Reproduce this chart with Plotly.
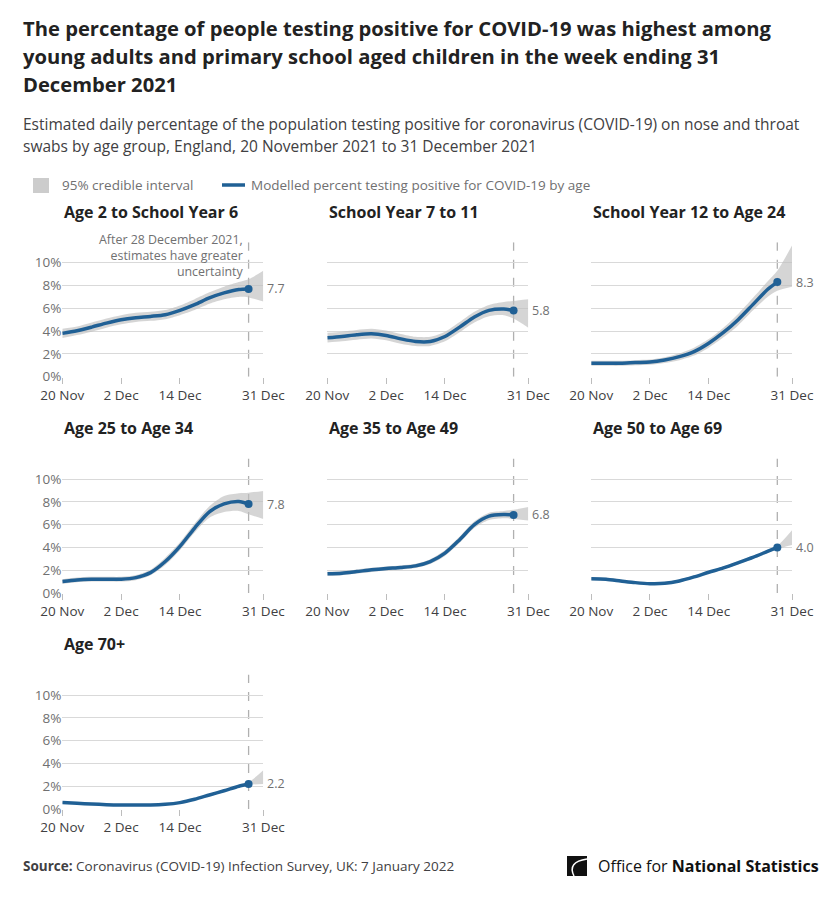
import plotly.graph_objects as go

# The page body adds an 8px margin, so the figure is 8px smaller and all
# pixel positions below are given in screenshot coordinates and shifted by OFF.
OFF = 8
W, H = 840 - OFF, 898 - OFF
FONT = "Open Sans"

# ---------------- data ----------------
line_dates = ["2021-11-20", "2021-11-23", "2021-11-26", "2021-11-29", "2021-12-02",
              "2021-12-05", "2021-12-08", "2021-12-11", "2021-12-14", "2021-12-17",
              "2021-12-20", "2021-12-23", "2021-12-26", "2021-12-28"]
band_dates = line_dates + ["2021-12-31"]

panel_titles = ["Age 2 to School Year 6", "School Year 7 to 11", "School Year 12 to Age 24",
                "Age 25 to Age 34", "Age 35 to Age 49", "Age 50 to Age 69", "Age 70+"]

age2_y6 = [3.8, 4.03, 4.35, 4.7, 5.0, 5.18, 5.29, 5.44, 5.82, 6.32, 6.91, 7.35, 7.65, 7.7]
age2_y6_lo = [3.4, 3.65, 3.95, 4.3, 4.6, 4.8, 4.9, 5.05, 5.4, 5.85, 6.4, 6.8, 7.0, 6.95, 6.6]
age2_y6_hi = [4.2, 4.4, 4.75, 5.1, 5.4, 5.6, 5.7, 5.85, 6.25, 6.8, 7.4, 7.9, 8.3, 8.55, 9.3]

y7_11 = [3.41, 3.53, 3.68, 3.76, 3.62, 3.32, 3.09, 3.09, 3.53, 4.35, 5.24, 5.82, 5.94, 5.8]
y7_11_lo = [3.0, 3.1, 3.25, 3.35, 3.2, 2.9, 2.7, 2.7, 3.1, 3.9, 4.75, 5.3, 5.4, 5.1, 4.3]
y7_11_hi = [3.85, 3.95, 4.1, 4.2, 4.05, 3.75, 3.5, 3.5, 3.95, 4.8, 5.7, 6.3, 6.55, 6.65, 6.8]

y12_24 = [1.18, 1.18, 1.18, 1.24, 1.29, 1.47, 1.76, 2.2, 2.94, 3.88, 5.0, 6.32, 7.65, 8.3]
y12_24_lo = [0.95, 0.95, 0.95, 1.0, 1.05, 1.2, 1.45, 1.85, 2.55, 3.45, 4.5, 5.8, 7.0, 7.55, 7.9]
y12_24_hi = [1.4, 1.4, 1.4, 1.45, 1.5, 1.7, 2.05, 2.55, 3.3, 4.3, 5.5, 6.9, 8.35, 9.3, 11.5]

a25_34 = [1.0, 1.15, 1.21, 1.21, 1.21, 1.35, 1.79, 2.76, 4.09, 5.7, 7.12, 7.82, 8.03, 7.8]
a25_34_lo = [0.8, 0.95, 1.0, 1.0, 1.0, 1.12, 1.55, 2.45, 3.75, 5.3, 6.6, 7.1, 7.2, 6.9, 6.5]
a25_34_hi = [1.2, 1.35, 1.42, 1.42, 1.42, 1.58, 2.05, 3.1, 4.45, 6.1, 7.6, 8.5, 8.75, 8.8, 8.95]

a35_49 = [1.68, 1.74, 1.88, 2.03, 2.15, 2.24, 2.38, 2.76, 3.5, 4.68, 6.0, 6.74, 6.88, 6.85]
a35_49_lo = [1.5, 1.56, 1.7, 1.85, 1.97, 2.06, 2.2, 2.55, 3.25, 4.4, 5.7, 6.4, 6.55, 6.5, 6.35]
a35_49_hi = [1.86, 1.92, 2.06, 2.21, 2.33, 2.42, 2.56, 2.97, 3.75, 4.95, 6.3, 7.05, 7.2, 7.3, 7.55]

a50_69 = [1.24, 1.21, 1.06, 0.91, 0.82, 0.85, 1.06, 1.41, 1.82, 2.2, 2.65, 3.12, 3.65, 4.0]
a50_69_lo = [1.12, 1.09, 0.94, 0.79, 0.7, 0.73, 0.94, 1.29, 1.7, 2.07, 2.52, 2.98, 3.5, 3.85, 4.2]
a50_69_hi = [1.36, 1.33, 1.18, 1.03, 0.94, 0.97, 1.18, 1.53, 1.94, 2.33, 2.78, 3.26, 3.8, 4.15, 5.5]

a70 = [0.56, 0.5, 0.44, 0.38, 0.35, 0.35, 0.35, 0.41, 0.56, 0.85, 1.23, 1.6, 2.0, 2.2]
a70_lo = [0.48, 0.42, 0.36, 0.3, 0.27, 0.27, 0.27, 0.33, 0.48, 0.77, 1.14, 1.5, 1.9, 2.1, 2.2]
a70_hi = [0.64, 0.58, 0.52, 0.46, 0.43, 0.43, 0.43, 0.49, 0.64, 0.93, 1.32, 1.7, 2.1, 2.35, 3.4]

series = [age2_y6, y7_11, y12_24, a25_34, a35_49, a50_69, a70]
lows = [age2_y6_lo, y7_11_lo, y12_24_lo, a25_34_lo, a35_49_lo, a50_69_lo, a70_lo]
highs = [age2_y6_hi, y7_11_hi, y12_24_hi, a25_34_hi, a35_49_hi, a50_69_hi, a70_hi]
end_labels = ["7.7", "5.8", "8.3", "7.8", "6.8", "4.0", "2.2"]

y_tickvals = [0, 2, 4, 6, 8, 10]
y_ticktext = ["0%", "2%", "4%", "6%", "8%", "10%"]
x_tickvals = ["2021-11-20", "2021-12-02", "2021-12-14", "2021-12-31"]
x_ticktext = ["20 Nov", "2 Dec", "14 Dec", "31 Dec"]
cutoff_date = "2021-12-28"

# ---------------- layout helpers ----------------
BLUE = "#206095"
BAND = "rgba(190,190,190,0.65)"
GRID = "#d9d9d9"
TXT = "#414042"
GREY = "#707071"

YMAX = 11.8
PPU = 11.4  # pixels per percentage point
col_x0 = [62.3, 327.3, 591.2]
col_x1 = [263.3, 528.3, 792.0]
row_base = [376.7, 593.0, 809.0]


def px(x):
    return (x - OFF) / W


def py(y):
    return 1 - (y - OFF) / H


fig = go.Figure()
annotations = []
shapes = []

for i in range(7):
    r, c = divmod(i, 3)
    k = "" if i == 0 else str(i + 1)
    xa, ya = "x" + k, "y" + k
    fig.add_trace(go.Scatter(x=band_dates, y=highs[i], mode="lines", line=dict(width=0, shape="spline", smoothing=0.8),
                             hoverinfo="skip", showlegend=False, xaxis=xa, yaxis=ya))
    fig.add_trace(go.Scatter(x=band_dates, y=lows[i], mode="lines", line=dict(width=0, shape="spline", smoothing=0.8),
                             fill="tonexty", fillcolor=BAND, hoverinfo="skip", showlegend=False,
                             xaxis=xa, yaxis=ya))
    fig.add_trace(go.Scatter(x=line_dates, y=series[i], mode="lines",
                             line=dict(color=BLUE, width=3.5, shape="spline", smoothing=0.8),
                             showlegend=False, xaxis=xa, yaxis=ya))
    fig.add_trace(go.Scatter(x=[line_dates[-1]], y=[series[i][-1]], mode="markers",
                             marker=dict(color=BLUE, size=8), showlegend=False, xaxis=xa, yaxis=ya))

    base = row_base[r]
    top = base - YMAX * PPU
    fig.update_layout(**{
        ("xaxis" + k): dict(domain=[px(col_x0[c]), px(col_x1[c])], anchor=ya, automargin=False,
                            range=["2021-11-20", "2021-12-31"], tickvals=x_tickvals, ticktext=x_ticktext,
                            ticks="outside", ticklen=6, tickcolor="#bdbdbd", showgrid=False,
                            showline=False, zeroline=False, fixedrange=True,
                            tickfont=dict(family=FONT, size=13.5, color=TXT)),
        ("yaxis" + k): dict(domain=[py(base), py(top)], anchor=xa, range=[0, YMAX], automargin=False,
                            tickvals=y_tickvals, ticktext=y_ticktext,
                            showticklabels=(c == 0), showgrid=True, gridcolor=GRID, gridwidth=1,
                            zeroline=True, zerolinecolor="rgba(0,0,0,0)", showline=False, ticks="",
                            fixedrange=True, tickfont=dict(family=FONT, size=13.5, color=GREY)),
    })
    # dashed cutoff line
    shapes.append(dict(type="line", xref=xa, yref=ya, x0=cutoff_date, x1=cutoff_date, y0=0, y1=YMAX,
                       line=dict(color="#b0b0b0", width=1.3, dash="dash"), layer="below"))
    # end value label
    annotations.append(dict(xref=xa, yref=ya, x="2021-12-31", y=series[i][-1], text=end_labels[i],
                            showarrow=False, xanchor="left", yanchor="middle", xshift=2,
                            font=dict(family=FONT, size=12.5, color=GREY)))
    # panel title
    annotations.append(dict(xref="paper", yref="paper", x=px(col_x0[c] - 0.5), y=py(base - 165),
                            text="<b>" + panel_titles[i] + "</b>", showarrow=False, xanchor="left",
                            yanchor="middle", font=dict(family=FONT, size=16, color="#222222")))

# uncertainty note in first panel
annotations.append(dict(xref="paper", yref="paper", x=px(246), y=py(256), align="right",
                        text="After 28 December 2021,<br>estimates have greater<br>uncertainty",
                        showarrow=False, xanchor="right", yanchor="middle",
                        font=dict(family=FONT, size=12.4, color=GREY)))

# title + subtitle
for j, t in enumerate(["The percentage of people testing positive for COVID-19 was highest among",
                       "young adults and primary school aged children in the week ending 31",
                       "December 2021"]):
    annotations.append(dict(xref="paper", yref="paper", x=px(21), y=py(28 + 28 * j), text="<b>" + t + "</b>",
                            showarrow=False, xanchor="left", yanchor="middle",
                            font=dict(family=FONT, size=20.2, color="#222222")))
for j, t in enumerate(["Estimated daily percentage of the population testing positive for coronavirus (COVID-19) on nose and throat",
                       "swabs by age group, England, 20 November 2021 to 31 December 2021"]):
    annotations.append(dict(xref="paper", yref="paper", x=px(21), y=py(124 + 22 * j), text=t,
                            showarrow=False, xanchor="left", yanchor="middle",
                            font=dict(family=FONT, size=15.5, color=TXT)))

# legend
shapes.append(dict(type="rect", xref="paper", yref="paper", x0=px(33), x1=px(49), y0=py(193), y1=py(178),
                   fillcolor="#cccccc", line=dict(width=0)))
annotations.append(dict(xref="paper", yref="paper", x=px(60), y=py(185), text="95% credible interval",
                        showarrow=False, xanchor="left", yanchor="middle",
                        font=dict(family=FONT, size=13.5, color=GREY)))
shapes.append(dict(type="line", xref="paper", yref="paper", x0=px(222), x1=px(245), y0=py(185), y1=py(185),
                   line=dict(color=BLUE, width=3.5)))
annotations.append(dict(xref="paper", yref="paper", x=px(249), y=py(185),
                        text="Modelled percent testing positive for COVID-19 by age",
                        showarrow=False, xanchor="left", yanchor="middle",
                        font=dict(family=FONT, size=13.5, color=GREY)))

# source
annotations.append(dict(xref="paper", yref="paper", x=px(21), y=py(866),
                        text="<b>Source:</b> Coronavirus (COVID-19) Infection Survey, UK: 7 January 2022",
                        showarrow=False, xanchor="left", yanchor="middle",
                        font=dict(family=FONT, size=13.5, color=TXT)))
# ONS logo
annotations.append(dict(xref="paper", yref="paper", x=px(821), y=py(866),
                        text="Office for <b>National Statistics</b>",
                        showarrow=False, xanchor="right", yanchor="middle",
                        font=dict(family=FONT, size=16, color="#111111")))

shapes.append(dict(type="path", xref="paper", yref="paper",
                   path="M {} {} L {} {} L {} {} L {} {} Z".format(px(567), py(856), px(587), py(856),
                                                                  px(587), py(876), px(567), py(876)),
                   fillcolor="#111111", line=dict(width=0)))
shapes.append(dict(type="path", xref="paper", yref="paper",
                   path="M {} {} Q {} {} {} {}".format(px(587), py(859), px(567), py(862), px(574), py(876)),
                   line=dict(color="white", width=1.5)))

fig.update_layout(width=W, height=H, margin=dict(l=0, r=0, t=0, b=0, autoexpand=False),
                  paper_bgcolor="white", plot_bgcolor="white",
                  annotations=annotations, shapes=shapes, showlegend=False,
                  font=dict(family=FONT))

fig.write_html("out.html")
